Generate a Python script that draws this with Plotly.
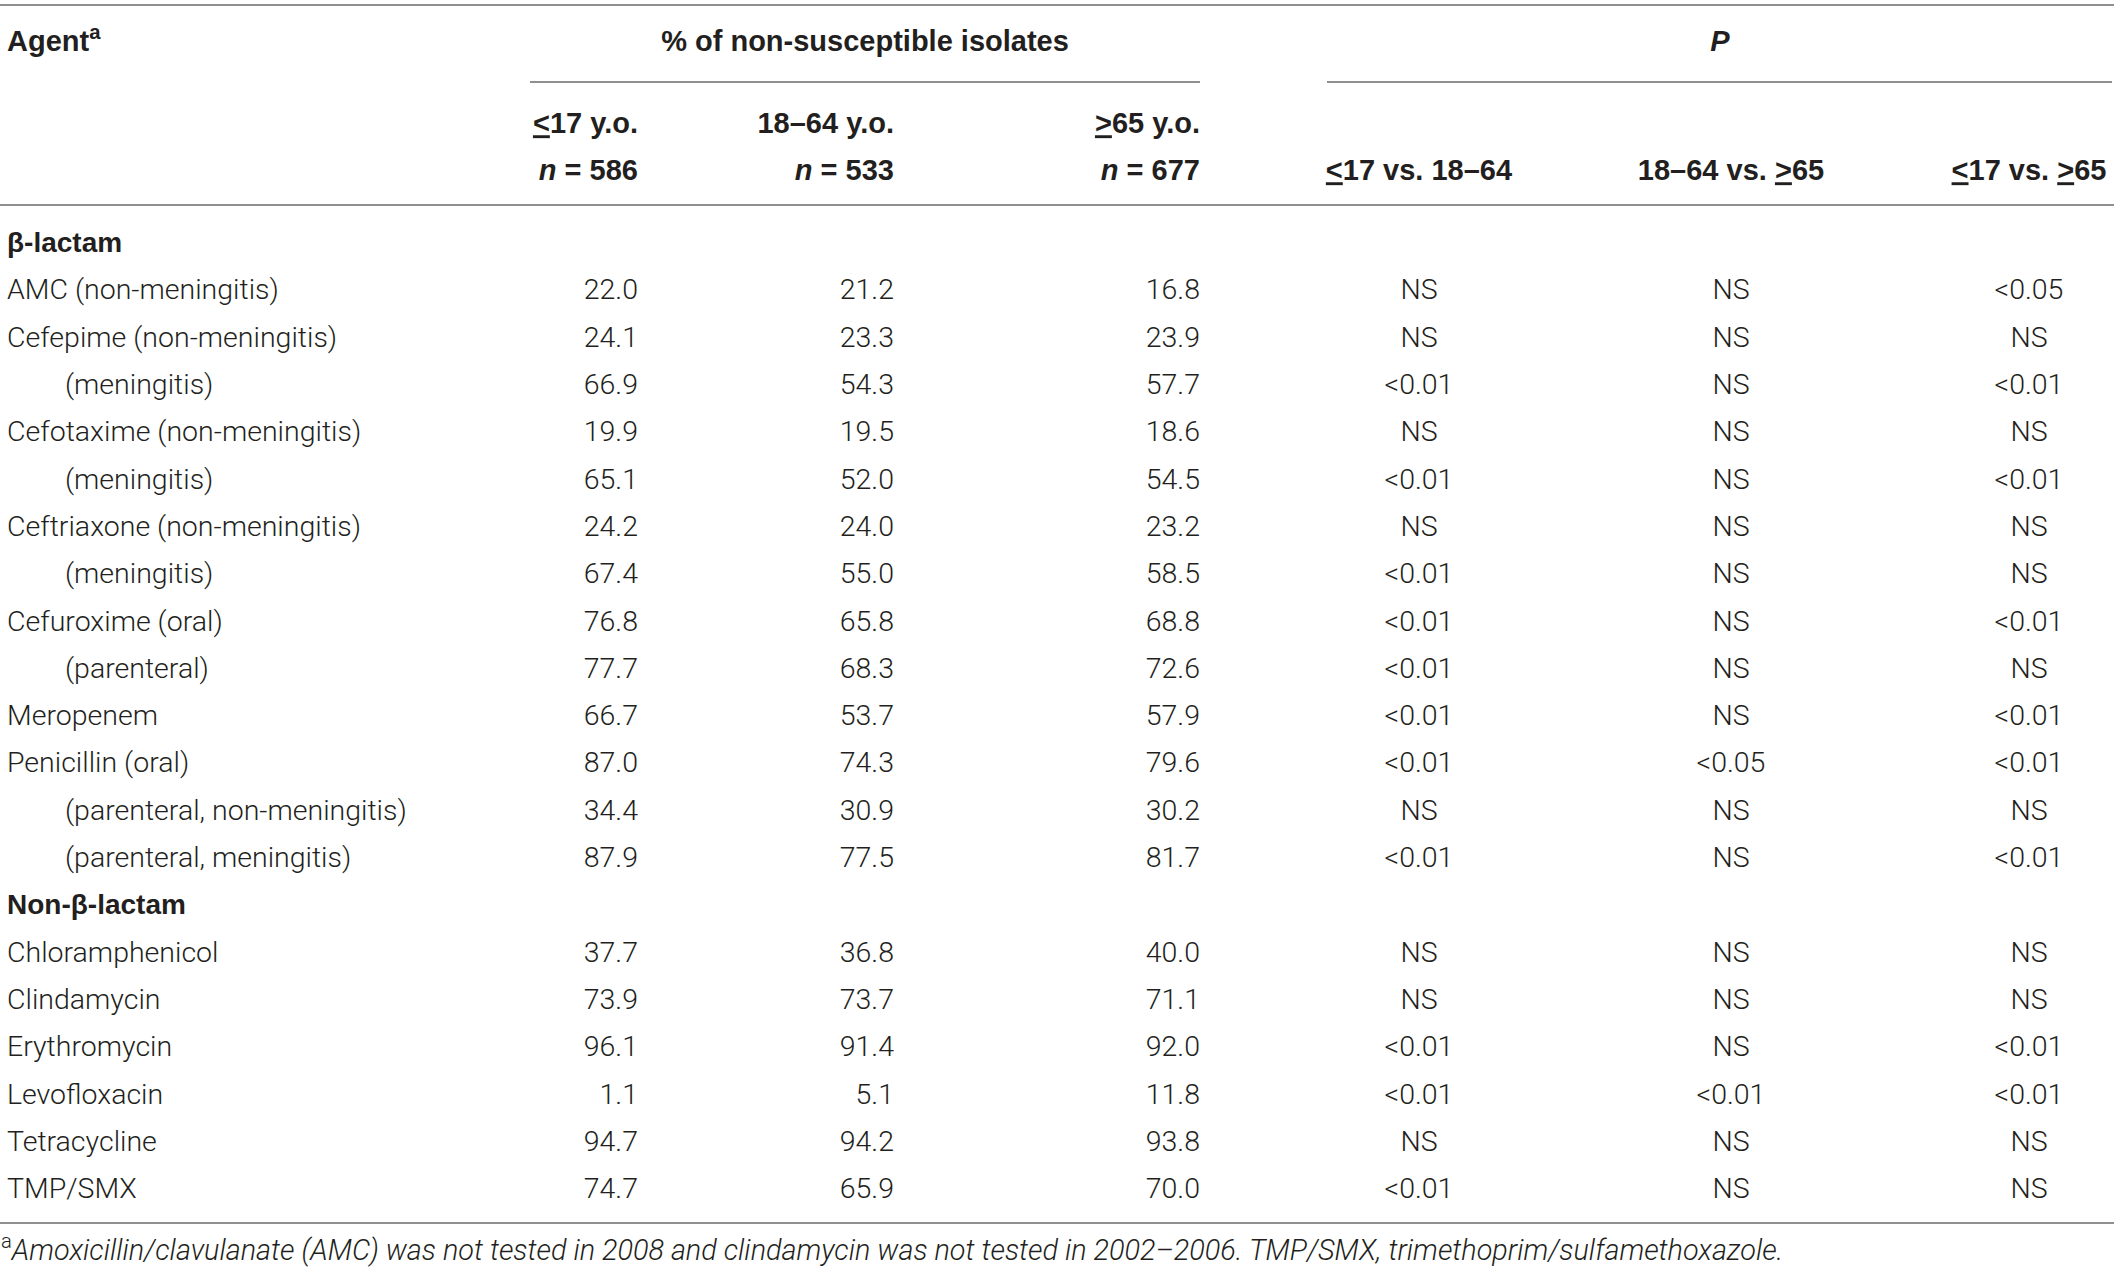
import plotly.graph_objects as go

# --- table data ---
agents = [
    "β-lactam", "AMC (non-meningitis)", "Cefepime (non-meningitis)", "(meningitis)",
    "Cefotaxime (non-meningitis)", "(meningitis)", "Ceftriaxone (non-meningitis)", "(meningitis)",
    "Cefuroxime (oral)", "(parenteral)", "Meropenem", "Penicillin (oral)",
    "(parenteral, non-meningitis)", "(parenteral, meningitis)", "Non-β-lactam",
    "Chloramphenicol", "Clindamycin", "Erythromycin", "Levofloxacin", "Tetracycline", "TMP/SMX",
]
section_rows = ["β-lactam", "Non-β-lactam"]

pct_le17 = [None, 22.0, 24.1, 66.9, 19.9, 65.1, 24.2, 67.4, 76.8, 77.7, 66.7, 87.0, 34.4, 87.9,
            None, 37.7, 73.9, 96.1, 1.1, 94.7, 74.7]
pct_18_64 = [None, 21.2, 23.3, 54.3, 19.5, 52.0, 24.0, 55.0, 65.8, 68.3, 53.7, 74.3, 30.9, 77.5,
             None, 36.8, 73.7, 91.4, 5.1, 94.2, 65.9]
pct_ge65 = [None, 16.8, 23.9, 57.7, 18.6, 54.5, 23.2, 58.5, 68.8, 72.6, 57.9, 79.6, 30.2, 81.7,
            None, 40.0, 71.1, 92.0, 11.8, 93.8, 70.0]

p_le17_vs_18_64 = [None, "NS", "NS", "<0.01", "NS", "<0.01", "NS", "<0.01", "<0.01", "<0.01", "<0.01",
                   "<0.01", "NS", "<0.01", None, "NS", "NS", "<0.01", "<0.01", "NS", "<0.01"]
p_18_64_vs_ge65 = [None, "NS", "NS", "NS", "NS", "NS", "NS", "NS", "NS", "NS", "NS",
                   "<0.05", "NS", "NS", None, "NS", "NS", "NS", "<0.01", "NS", "NS"]
p_le17_vs_ge65 = [None, "<0.05", "NS", "<0.01", "NS", "<0.01", "NS", "NS", "<0.01", "NS", "<0.01",
                  "<0.01", "NS", "<0.01", None, "NS", "NS", "<0.01", "<0.01", "NS", "NS"]

age_groups = ["<u>&lt;</u>17 y.o.", "18–64 y.o.", "<u>&gt;</u>65 y.o."]
group_n = [586, 533, 677]
p_labels = ["<u>&lt;</u>17 vs. 18–64", "18–64 vs. <u>&gt;</u>65", "<u>&lt;</u>17 vs. <u>&gt;</u>65"]
footnote = ("<sup>a</sup><i>Amoxicillin/clavulanate (AMC) was not tested in 2008 and clindamycin "
            "was not tested in 2002–2006. TMP/SMX, trimethoprim/sulfamethoxazole.</i>")

# --- layout in page pixels ---
W, H = 2118, 1273
BODY_FONT = "Roboto, Liberation Sans, Arial, sans-serif"
HEAD_FONT = "Liberation Sans, Arial, sans-serif"
COLOR = "#231f20"
LINE = "#8f8f8f"

x_left, x_indent = 7, 65
x_pct = [638, 894, 1200]      # right edges
x_p = [1419, 1731, 2029]      # centres
y_head1, y_head2, y_head3 = 44, 126, 173
y_first, row_step = 245, 47.3
row_y = [y_first + i * row_step for i in range(len(agents))]

fig = go.Figure()


def add_text(x, y, text, pos, family=BODY_FONT, size=28.5, weight=300):
    fig.add_trace(go.Scatter(
        x=x, y=y, text=text, mode="text", textposition=pos,
        textfont=dict(family=family, size=size, color=COLOR, weight=weight),
        hoverinfo="skip", showlegend=False, cliponaxis=False,
    ))


def column(xc, values, fmt):
    xs, ys, ts = [], [], []
    for y, v in zip(row_y, values):
        if v is None:
            continue
        xs.append(xc)
        ys.append(y)
        ts.append(fmt(v))
    return xs, ys, ts


# Agent column
body = [i for i, a in enumerate(agents) if a not in section_rows]
add_text([x_indent if agents[i].startswith("(") else x_left for i in body],
         [row_y[i] for i in body], [agents[i] for i in body], "middle right")
sect = [i for i, a in enumerate(agents) if a in section_rows]
add_text([x_left] * len(sect), [row_y[i] for i in sect], ["<b>%s</b>" % agents[i] for i in sect],
         "middle right", family=HEAD_FONT, size=28, weight=700)

# percentage columns
for xc, col in zip(x_pct, [pct_le17, pct_18_64, pct_ge65]):
    xs, ys, ts = column(xc, col, lambda v: f"{v:.1f}")
    add_text(xs, ys, ts, "middle left")

# P columns
for xc, col in zip(x_p, [p_le17_vs_18_64, p_18_64_vs_ge65, p_le17_vs_ge65]):
    xs, ys, ts = column(xc, col, lambda v: v.replace("<", "&lt;"))
    add_text(xs, ys, ts, "middle center")

# headers
hd = dict(family=HEAD_FONT, size=29, weight=700)
add_text([x_left], [y_head1], ["<b>Agent</b><sup>a</sup>"], "middle right", **hd)
add_text([(530 + 1200) / 2], [y_head1], ["<b>% of non-susceptible isolates</b>"], "middle center", **hd)
add_text([1720], [y_head1], ["<b><i>P</i></b>"], "middle center", **hd)
add_text(x_pct, [y_head2] * 3, ["<b>%s</b>" % g for g in age_groups], "middle left", **hd)
add_text(x_pct, [y_head3] * 3, ["<b><i>n</i> = %d</b>" % n for n in group_n], "middle left", **hd)
add_text(x_p, [y_head3] * 3, ["<b>%s</b>" % p for p in p_labels], "middle center", **hd)

# footnote
add_text([1], [1253], [footnote], "middle right", size=28.8)

# rules
rules = [(0, 2114, 5), (530, 1200, 82), (1327, 2112, 82), (0, 2114, 205), (0, 2114, 1223)]
for x0, x1, y in rules:
    fig.add_shape(type="line", x0=x0, x1=x1, y0=y, y1=y, xref="x", yref="y",
                  line=dict(color=LINE, width=2))

fig.update_layout(
    width=W, height=H,
    margin=dict(l=0, r=0, t=0, b=0),
    paper_bgcolor="white", plot_bgcolor="white",
    xaxis=dict(range=[0, W], visible=False, fixedrange=True),
    yaxis=dict(range=[H, 0], visible=False, fixedrange=True),
)

# drop the default page margin so the figure sits at the window's corner
fig.write_html("out.html", config={"displayModeBar": False},
               post_script="document.body.style.margin = '0';")
